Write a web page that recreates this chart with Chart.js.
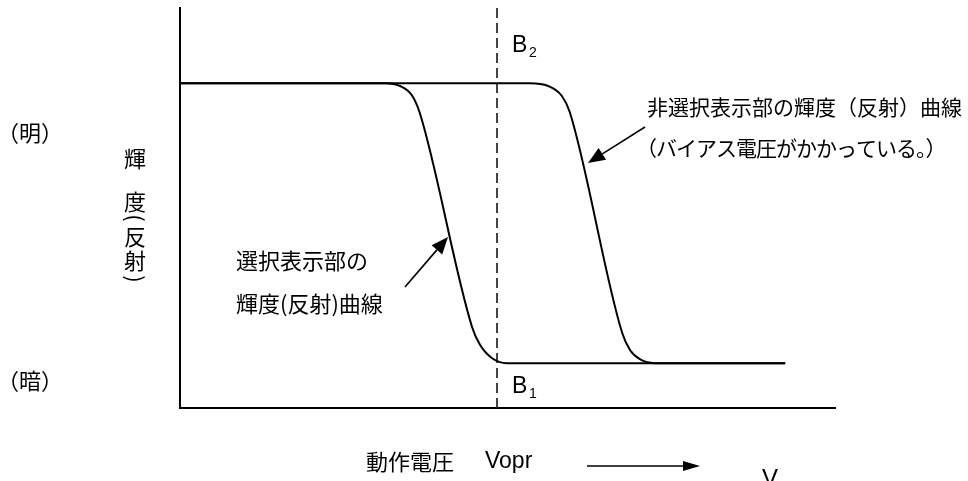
<!DOCTYPE html>
<html>
<head>
<meta charset="utf-8">
<script src="https://cdn.jsdelivr.net/npm/chart.js@4.4.0/dist/chart.umd.min.js"></script>
<style>
  html, body { margin: 0; background: #fff; }
</style>
</head>
<body>
<canvas id="chart" width="968" height="481"></canvas>
<script>
// operating voltage (x, 0-100) vs brightness (y, 0-100)
const selV = [0, 31.3, 33.6, 35.4, 36.6, 44.6, 45.8, 47.6, 49.9, 92.4];
const selB = [81.2, 81.2, 80.5, 78.2, 73.8, 20.2, 15.8, 12.5, 11.2, 11.2];
const nonV = [0, 53.4, 56.2, 58.3, 59.5, 67.5, 68.7, 70.2, 72.5, 92.4];
const nonB = [81.2, 81.2, 80.5, 78.0, 74.0, 18.8, 14.5, 12.2, 11.2, 11.2];
const voprV = [48.4, 48.4];
const voprB = [0, 100];

const toPts = (xs, ys) => xs.map((x, i) => ({ x: x, y: ys[i] }));

const JP = '"Noto Sans CJK JP", sans-serif';
const LAT = '"Liberation Sans", Arial, sans-serif';

function arrow(ctx, x1, y1, x2, y2, len, half) {
  const a = Math.atan2(y2 - y1, x2 - x1);
  const bx = x2 - Math.cos(a) * len, by = y2 - Math.sin(a) * len;
  ctx.beginPath();
  ctx.moveTo(x1, y1);
  ctx.lineTo(bx, by);
  ctx.stroke();
  ctx.beginPath();
  ctx.moveTo(x2, y2);
  ctx.lineTo(bx + Math.sin(a) * half, by - Math.cos(a) * half);
  ctx.lineTo(bx - Math.sin(a) * half, by + Math.cos(a) * half);
  ctx.closePath();
  ctx.fill();
}

const notes = {
  id: 'notes',
  afterDraw(chart) {
    const ctx = chart.ctx;
    ctx.save();
    ctx.fillStyle = '#000';
    ctx.strokeStyle = '#000';
    ctx.lineWidth = 1.6;
    ctx.textAlign = 'left';
    ctx.textBaseline = 'middle';

    ctx.font = '22px ' + JP;
    ctx.fillText('（明）', -3, 133);
    ctx.fillText('（暗）', -3, 381);

    // vertical axis title
    ctx.textAlign = 'center';
    ctx.fillText('輝', 135, 159);
    ctx.fillText('度', 135, 202);
    ctx.fillText('反', 135, 237);
    ctx.fillText('射', 135, 261);
    [[218, '('], [279, ')']].forEach(([y, p]) => {
      ctx.save();
      ctx.translate(135, y);
      ctx.rotate(Math.PI / 2);
      ctx.fillText(p, 0, 0);
      ctx.restore();
    });

    ctx.textAlign = 'left';
    ctx.fillText('選択表示部の', 236, 261);
    ctx.fillText('輝度(反射)曲線', 236, 304);
    ctx.fillText('動作電圧', 366, 462);

    ctx.font = '21px ' + JP;
    ctx.fillText('非選択表示部の輝度（反射）曲線', 647, 107);
    ctx.letterSpacing = '-1px';
    ctx.fillText('（バイアス電圧がかかっている。）', 636, 148);
    ctx.letterSpacing = '0px';

    ctx.textBaseline = 'alphabetic';
    ctx.font = '23px ' + LAT;
    ctx.fillText('B', 512, 52);
    ctx.fillText('B', 512, 393);
    ctx.font = '14px ' + LAT;
    ctx.fillText('2', 529, 57);
    ctx.fillText('1', 529, 398);
    ctx.font = '23px ' + LAT;
    ctx.fillText('Vopr', 485, 468);
    ctx.font = '24px ' + LAT;
    ctx.fillText('V', 762, 486);

    arrow(ctx, 405, 287, 448, 237, 17, 7);
    arrow(ctx, 645, 127, 588, 163, 17, 7);
    arrow(ctx, 587, 466, 700, 466, 17, 5);
    ctx.restore();
  }
};

new Chart(document.getElementById('chart'), {
  type: 'line',
  data: {
    datasets: [
      {
        label: '選択表示部',
        data: toPts(selV, selB),
        borderColor: '#000',
        borderWidth: 2,
        pointRadius: 0,
        cubicInterpolationMode: 'monotone'
      },
      {
        label: '非選択表示部',
        data: toPts(nonV, nonB),
        borderColor: '#000',
        borderWidth: 2,
        pointRadius: 0,
        cubicInterpolationMode: 'monotone'
      },
      {
        label: 'Vopr',
        data: toPts(voprV, voprB),
        borderColor: '#222',
        borderWidth: 1.7,
        borderDash: [10, 5],
        pointRadius: 0
      }
    ]
  },
  options: {
    responsive: false,
    animation: false,
    layout: { padding: { left: 180, top: 8, right: 133, bottom: 73 } },
    plugins: { legend: { display: false }, tooltip: { enabled: false } },
    scales: {
      x: {
        type: 'linear', min: 0, max: 100,
        grid: { display: false, drawTicks: false },
        ticks: { display: false },
        border: { display: true, color: '#000', width: 2 },
        afterFit: s => { s.height = 0; }
      },
      y: {
        type: 'linear', min: 0, max: 100,
        grid: { display: false, drawTicks: false },
        ticks: { display: false },
        border: { display: true, color: '#000', width: 2 },
        afterFit: s => { s.width = 0; }
      }
    }
  },
  plugins: [notes]
});
</script>
</body>
</html>
